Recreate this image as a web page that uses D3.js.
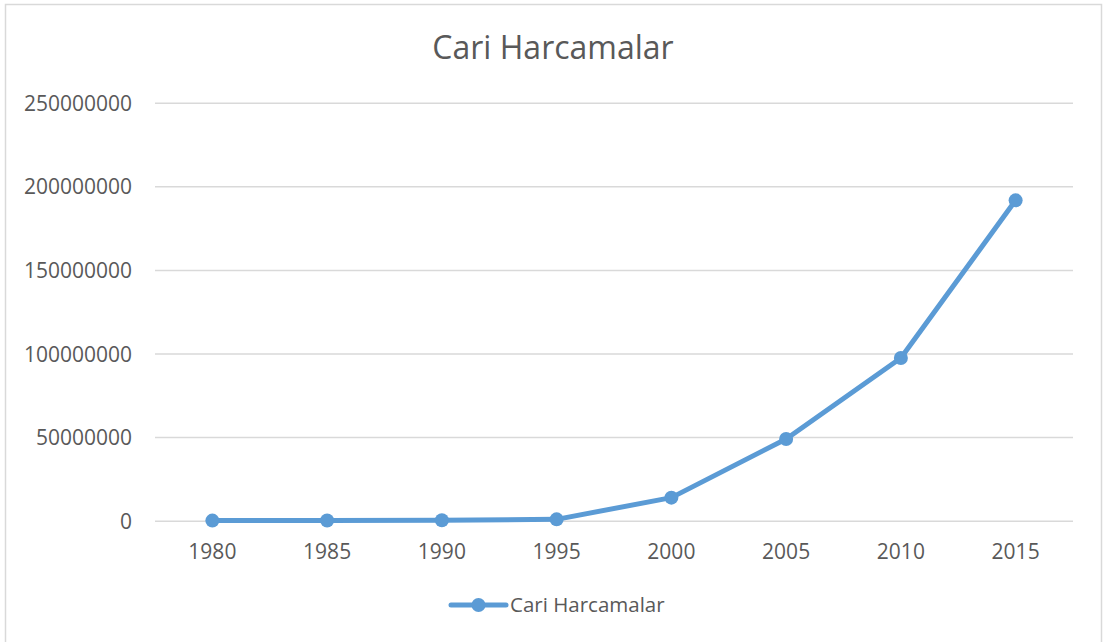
<!DOCTYPE html>
<html>
<head>
<meta charset="utf-8">
<script src="https://cdn.jsdelivr.net/npm/d3@7"></script>
<style>
	body { margin: 0; background: #fff; }
	text { font-family: "Open Sans", sans-serif; fill: #595959; }
</style>
</head>
<body>
<svg></svg>
<script>
const years = ['1980', '1985', '1990', '1995', '2000', '2005', '2010', '2015'];
const cariHarcamalar = [50000, 150000, 300000, 800000, 13800000, 48900000, 97300000, 191600000];
const yTicks = [0, 50000000, 100000000, 150000000, 200000000, 250000000];
const seriesName = 'Cari Harcamalar';
const chartTitle = 'Cari Harcamalar';

var width = 1103, height = 642;
var blue = '#5B9BD5';

let svg = d3.select('svg')
	.attr('width', width)
	.attr('height', height);

// chart area border
svg.append('rect')
	.attr('x', 5.5).attr('y', 4.5)
	.attr('width', 1096).attr('height', 645)
	.attr('fill', 'none')
	.attr('stroke', '#d9d9d9')
	.attr('stroke-width', 1.5);

let x = d3.scaleBand()
	.domain(years)
	.range([155, 1073]);

let y = d3.scaleLinear()
	.domain([0, 250000000])
	.range([520.7, 102.7]);

svg.append('text')
	.attr('x', (x.range()[0] + x.range()[1]) / 2 - 61)
	.attr('y', 59)
	.attr('text-anchor', 'middle')
	.style('font-size', '32px')
	.text(chartTitle);

// gridlines + y labels
let yAxis = svg.append('g')
	.attr('transform', 'translate(155,0)')
	.call(d3.axisLeft(y).tickValues(yTicks).tickSize(-918).tickPadding(23).tickFormat(d3.format('d')));
yAxis.select('.domain').remove();
yAxis.selectAll('line').attr('stroke', '#d9d9d9').attr('stroke-width', 1.5);
yAxis.selectAll('text')
	.style('font-size', '21px')
	.attr('font-family', null)
	.attr('fill', '#595959')
	.attr('dy', '0.36em');

// x labels
let xAxis = svg.append('g')
	.attr('transform', 'translate(0,520.7)')
	.call(d3.axisBottom(x).tickSize(0).tickPadding(23));
xAxis.select('.domain').remove();
xAxis.selectAll('text')
	.style('font-size', '21px')
	.attr('fill', '#595959')
	.attr('dy', '0.71em');

let data = years.map((yr, i) => ({ year: yr, value: cariHarcamalar[i] }));

let line = d3.line()
	.x(d => x(d.year) + x.bandwidth() / 2)
	.y(d => y(d.value));

svg.append('path')
	.datum(data)
	.attr('d', line)
	.attr('fill', 'none')
	.attr('stroke', blue)
	.attr('stroke-width', 5)
	.attr('stroke-linejoin', 'round')
	.attr('stroke-linecap', 'round');

svg.append('g')
	.selectAll('circle')
	.data(data)
	.join('circle')
	.attr('cx', d => x(d.year) + x.bandwidth() / 2)
	.attr('cy', d => y(d.value))
	.attr('r', 7)
	.attr('fill', blue);

// legend
let legend = svg.append('g').attr('transform', 'translate(451,605)');
legend.append('line')
	.attr('x1', 0).attr('x2', 55)
	.attr('stroke', blue)
	.attr('stroke-width', 5)
	.attr('stroke-linecap', 'round');
legend.append('circle')
	.attr('cx', 27.5).attr('r', 7)
	.attr('fill', blue);
legend.append('text')
	.attr('x', 59)
	.attr('y', 7)
	.style('font-size', '20.5px')
	.text(seriesName);
</script>
</body>
</html>
